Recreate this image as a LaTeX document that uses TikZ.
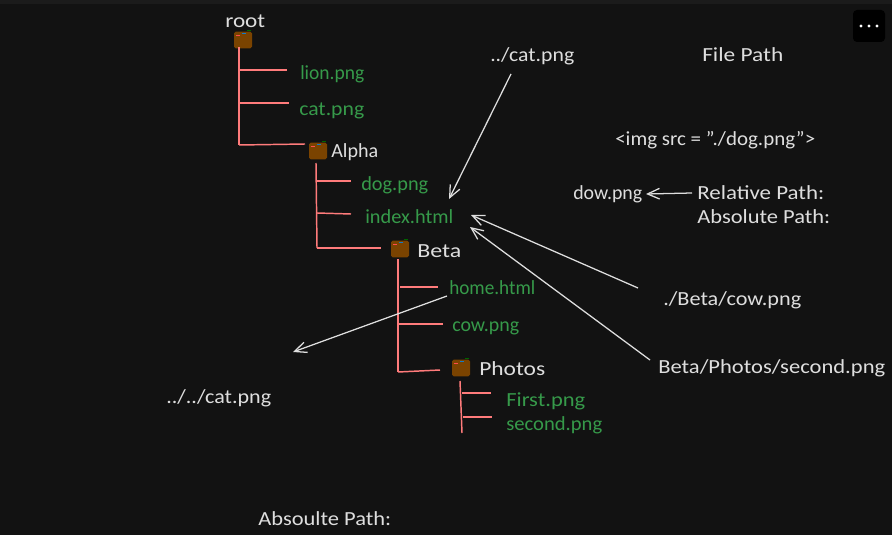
\documentclass[tikz,border=0pt]{standalone}
\usepackage{fontspec}
\usepackage{graphicx}
\setmainfont{Carlito}
\definecolor{bgc}{HTML}{121212}
\definecolor{bandc}{HTML}{1B1B1B}
\definecolor{txtc}{HTML}{DEDEDE}
\definecolor{grn}{HTML}{369A4A}
\definecolor{redl}{HTML}{FF7B7B}
\definecolor{brn}{HTML}{7A4300}
\usetikzlibrary{arrows.meta}
\tikzset{
  x=0.75pt,y=-0.75pt,
  lbl/.style={text=txtc,font=\fontsize{15}{16}\selectfont,inner sep=0pt,anchor=base west,yshift=-1.1pt},
  gfile/.style={lbl,text=grn},
  treeln/.style={draw=redl,line width=1.1pt},
  arr/.style={draw=txtc,line width=0.95pt,-{Straight Barb[length=9pt,width=8pt]}},
  folder/.style={fill=brn,rounded corners=1.2pt,minimum width=13.5pt,minimum height=12.5pt,inner sep=0pt},
}
\newcommand{\fit}[2]{\resizebox{#1\dimexpr0.75pt\relax}{\height}{#2}}
\newcommand{\fdetail}[1]{%
  \fill[green!40!black] ([xshift=3pt,yshift=0.2pt]#1.north) rectangle ++(3pt,0.9pt);
  \fill[cyan!60!blue] ([xshift=-1pt,yshift=-1.5pt]#1.north) rectangle ++(3pt,-0.8pt);
  \fill[red!70] ([xshift=-5pt,yshift=-3pt]#1.north) rectangle ++(3pt,-0.8pt);
}
\begin{document}
\begin{tikzpicture}
\useasboundingbox (0,0) rectangle (892,535);
\fill[bgc] (0,0) rectangle (892,535);
\fill[bandc] (0,0) rectangle (892,4);
% menu button
\node[fill=black,rounded corners=3pt,minimum width=24pt,minimum height=24pt,inner sep=0pt] (menu) at (869,26) {};
\foreach \i in {-8,0,8} \fill[white] (869+\i,26) circle (1.7);
% folders
\node[folder] (froot) at (243,40) {}; \fdetail{froot}
\node[folder] (falpha) at (318,151) {}; \fdetail{falpha}
\node[folder] (fbeta) at (400,249) {}; \fdetail{fbeta}
\node[folder] (fphotos) at (461,368) {}; \fdetail{fphotos}
% text
\node[lbl] (root) at (225,26) {\fit{40}{root}};
\node[gfile] (lion) at (300,78) {\fit{64}{lion.png}};
\node[gfile] (cat) at (299,114) {\fit{65}{cat.png}};
\node[lbl] (alpha) at (331,156) {\fit{47}{Alpha}};
\node[gfile] (dog) at (361,189) {\fit{67}{dog.png}};
\node[gfile] (index) at (365,222) {\fit{88}{index.html}};
\node[lbl] (beta) at (417,256) {\fit{44}{Beta}};
\node[gfile] (home) at (449,293) {\fit{86}{home.html}};
\node[gfile] (cow) at (452,330) {\fit{67}{cow.png}};
\node[lbl] (photos) at (479,374) {\fit{66}{Photos}};
\node[gfile] (first) at (506,405) {\fit{79}{First.png}};
\node[gfile] (second) at (506,429) {\fit{96}{second.png}};
\node[lbl] (catrel) at (490,60) {\fit{84}{../cat.png}};
\node[lbl] (filepath) at (702,60) {\fit{81}{File Path}};
\node[lbl] (img) at (615,144) {\fit{200}{<img src = \char34./dog.png\char34>}};
\node[lbl] (dow) at (573,198) {\fit{69}{dow.png}};
\node[lbl] (rel) at (697,198) {\fit{127}{Relative Path:}};
\node[lbl] (abs) at (697,222) {\fit{133}{Absolute Path:}};
\node[lbl] (cowrel) at (663,304) {\fit{138}{./Beta/cow.png}};
\node[lbl] (secrel) at (658,372) {\fit{227}{Beta/Photos/second.png}};
\node[lbl] (upcat) at (166,402) {\fit{105}{../../cat.png}};
\node[lbl] (absbottom) at (258,524) {\fit{133}{Absoulte Path:}};
% root tree
\coordinate (r0) at (239,47); \coordinate (r1) at (239,145);
\coordinate (r1a) at (240,70); \coordinate (r1b) at (287,70);
\coordinate (r2a) at (240,103); \coordinate (r2b) at (289,103);
\coordinate (r3b) at (305,144);
\draw[treeln] (r0) -- (r1);
\draw[treeln] (r1a) -- (r1b);
\draw[treeln] (r2a) -- (r2b);
\draw[treeln] (r1) -- (r3b);
% alpha tree
\coordinate (a0) at (316,163); \coordinate (a1) at (317,248);
\coordinate (a1a) at (317,181); \coordinate (a1b) at (351,181);
\coordinate (a2a) at (317,213); \coordinate (a2b) at (351,214);
\coordinate (a3b) at (381,248);
\draw[treeln] (a0) -- (a1);
\draw[treeln] (a1a) -- (a1b);
\draw[treeln] (a2a) -- (a2b);
\draw[treeln] (a1) -- (a3b);
% beta tree
\coordinate (b0) at (398,259); \coordinate (b1) at (398,372);
\coordinate (b1a) at (400,287); \coordinate (b1b) at (438,287);
\coordinate (b2a) at (399,324); \coordinate (b2b) at (443,324);
\coordinate (b3b) at (440,370);
\draw[treeln] (b0) -- (b1);
\draw[treeln] (b1a) -- (b1b);
\draw[treeln] (b2a) -- (b2b);
\draw[treeln] (b1) -- (b3b);
% photos tree
\coordinate (p0) at (460,381); \coordinate (p1) at (462,433);
\coordinate (p1a) at (462,393); \coordinate (p1b) at (491,393);
\coordinate (p2a) at (463,417); \coordinate (p2b) at (492,417);
\draw[treeln] (p0) -- (p1);
\draw[treeln] (p1a) -- (p1b);
\draw[treeln] (p2a) -- (p2b);
% arrows
\coordinate (c1) at (511,74); \coordinate (c1e) at (449,199);
\draw[arr] (c1) -- (c1e);
\coordinate (c2) at (638,288); \coordinate (c2e) at (471,215);
\draw[arr] (c2) -- (c2e);
\coordinate (c3) at (650,360); \coordinate (c3e) at (470,227);
\draw[arr] (c3) -- (c3e);
\coordinate (c4) at (447,296); \coordinate (c4e) at (293,352);
\draw[arr] (c4) -- (c4e);
\coordinate (c5) at (692,193); \coordinate (c5e) at (646,194);
\draw[arr] (c5) -- (c5e);
\end{tikzpicture}
\end{document}
